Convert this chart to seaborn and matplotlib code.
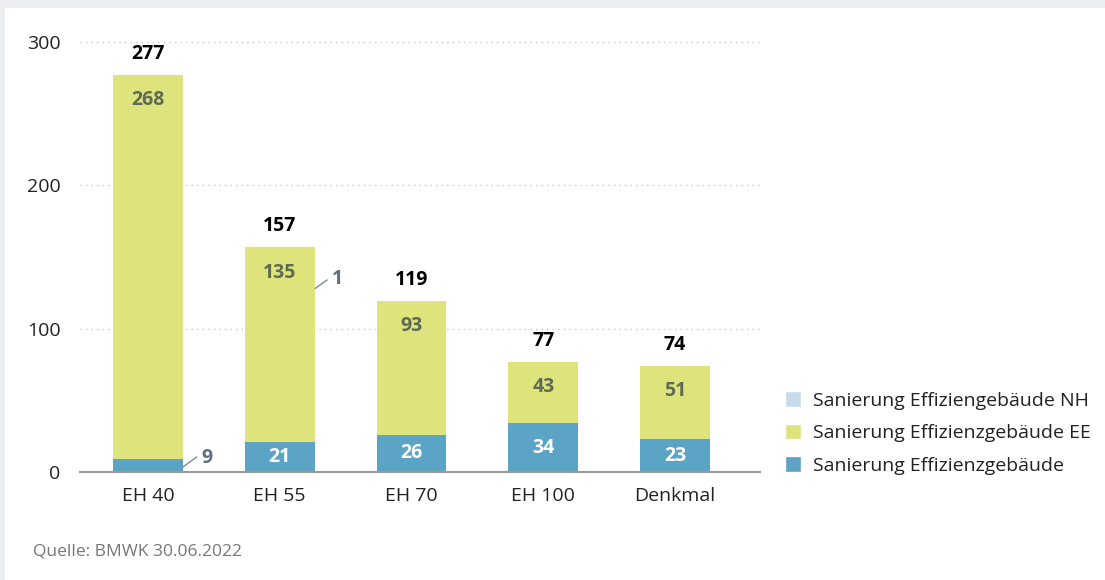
import matplotlib
matplotlib.use("Agg")
import matplotlib.pyplot as plt
import seaborn as sns
import pandas as pd
import numpy as np
from matplotlib.patches import Rectangle, Patch

categories = ["EH 40", "EH 55", "EH 70", "EH 100", "Denkmal"]
effizienz = [9, 21, 26, 34, 23]
effizienz_ee = [268, 135, 93, 43, 51]
effizienz_nh = [0, 1, 0, 0, 0]
totals = [277, 157, 119, 77, 74]
yticks = [0, 100, 200, 300]
series_names = ["Sanierung Effiziengebäude NH", "Sanierung Effizienzgebäude EE", "Sanierung Effizienzgebäude"]
source = "Quelle: BMWK 30.06.2022"

c_blue = "#5ba4c6"
c_yellow = "#dee37c"
c_nh = "#c6dceb"

sns.set_theme(style="white")
plt.rcParams["font.family"] = ["Open Sans", "DejaVu Sans"]

fig = plt.figure(figsize=(11.05, 5.8), dpi=100)
fig.patch.set_facecolor("#eceef2")
fig.patches.append(Rectangle((5/1105, 0), 1, (580-8)/580, transform=fig.transFigure,
                             facecolor="white", edgecolor="none", zorder=-5))

ax = fig.add_axes([80/1105, (580-472)/580, 680/1105, 430/580])
ax.set_facecolor("none")
ax.set_zorder(2)

df = pd.DataFrame({"cat": categories, "eff": effizienz, "ee": effizienz_ee, "nh": effizienz_nh})
bottom_ee = np.array(effizienz)
bottom_nh = bottom_ee + np.array(effizienz_ee)
w = 0.53
bar_kw = dict(width=w, saturation=1, ax=ax, zorder=3, linewidth=0)
sns.barplot(data=df, x="cat", y="eff", color=c_blue, **bar_kw)
sns.barplot(data=df, x="cat", y="ee", color=c_yellow, bottom=bottom_ee, **bar_kw)
sns.barplot(data=df, x="cat", y="nh", color=c_nh, bottom=bottom_nh, **bar_kw)

ax.set_xlim(-0.516, 4.645)
ax.set_ylim(0, 300)
ax.set_yticks(yticks)
ax.set_yticklabels([str(t) for t in yticks], fontsize=14, color="#222222")
ax.tick_params(axis="y", length=0, pad=14)
ax.tick_params(axis="x", length=0, pad=11, labelsize=14, labelcolor="#222222")
ax.set_xlabel("")
ax.set_ylabel("")
for s in ["top", "right", "left"]:
    ax.spines[s].set_visible(False)
ax.spines["bottom"].set_color("#9a9a9a")
ax.spines["bottom"].set_linewidth(1.5)
ax.spines["bottom"].set_zorder(4)
for t in yticks[1:]:
    ax.axhline(t, color="#c8c8c8", linestyle=(0, (1, 3)), linewidth=1, zorder=1, clip_on=False)

label_font = dict(fontsize=14, fontweight="bold")
for i, (e, ee, tot) in enumerate(zip(effizienz, effizienz_ee, totals)):
    ax.annotate(str(tot), (i, tot), xytext=(0, 8), textcoords="offset points",
                ha="center", va="bottom", color="black", annotation_clip=False, **label_font)
    ax.annotate(str(ee), (i, e + ee), xytext=(0, -18), textcoords="offset points",
                ha="center", va="center", color="#5d6b55", zorder=5, **label_font)
    if e >= 15:
        ax.text(i, e / 2, str(e), ha="center", va="center", color="white", zorder=5, **label_font)

# small values with leader lines
ax.plot([0.265, 0.37], [3.5, 10.5], color="#7a8a96", linewidth=1, zorder=5, clip_on=False)
ax.text(0.45, 10, str(effizienz[0]), ha="center", va="center", color="#5f6f7f", **label_font)
ax.plot([1.268, 1.36], [128, 134], color="#7a8a96", linewidth=1, zorder=5, clip_on=False)
ax.text(1.44, 135, str(effizienz_nh[1]), ha="center", va="center", color="#5f6f7f", **label_font)

handles = [Patch(facecolor=c_nh), Patch(facecolor=c_yellow), Patch(facecolor=c_blue)]
fig.legend(handles, series_names, loc="center left", bbox_to_anchor=(767/1105, (580-433)/580),
           frameon=False, fontsize=14, handlelength=0.85, handleheight=0.85,
           handletextpad=0.6, labelspacing=0.72, labelcolor="#222222")

fig.text(33/1105, (580-552)/580, source, fontsize=12.5, color="#777777", va="center", ha="left")

fig.savefig("out.png", dpi=100, facecolor=fig.get_facecolor())
